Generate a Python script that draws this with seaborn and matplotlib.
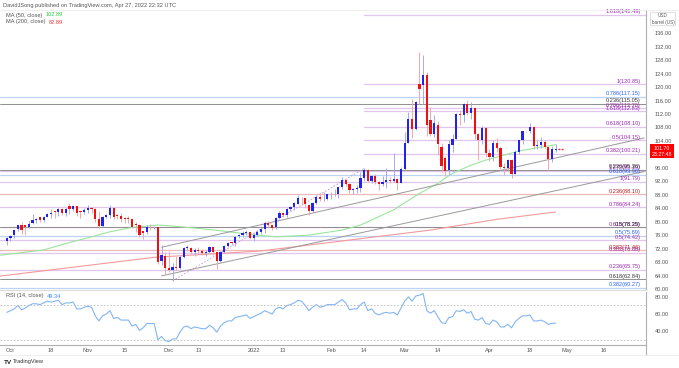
import numpy as np
import pandas as pd
import seaborn as sns
import matplotlib.pyplot as plt
from matplotlib.transforms import blended_transform_factory

# ---- values (daily bars, Sep 30 2021 - Apr 27 2022) ----
days = pd.bdate_range("2021-09-30", "2022-05-31")

opens = [
    74.40,
    75.03, 75.90, 77.70, 79.00, 78.90, 78.40, 79.50, 80.50, 81.30, 80.40, 81.40, 82.40, 83.30, 82.90, 83.80, 82.50, 84.60, 83.80, 84.60, 83.20, 82.80,
    83.60, 84.00, 83.90, 80.80, 78.80, 81.30, 81.90, 84.10, 82.10, 81.60, 81.10, 81.00, 80.70, 79.30, 79.00, 77.20, 76.80, 78.50, 78.40, 78.30, 68.20, 69.90,
    66.20, 65.60, 66.60, 66.30, 69.50, 72.10, 72.30, 70.90, 71.70, 71.30, 70.70, 70.90, 72.40, 70.90, 68.30, 71.10, 72.80, 73.80, 73.80, 75.60, 76.00, 76.50, 77.00,
    75.20, 76.10, 77.00, 77.90, 79.50, 78.90, 78.30, 81.20, 82.60, 82.10, 83.80, 84.30, 85.40, 87.00, 86.90, 85.10, 83.30, 85.60, 87.40, 86.60, 86.80,
    88.20, 88.20, 88.30, 90.30, 92.30, 91.30, 89.40, 89.70, 89.90, 93.10, 95.40, 92.10, 93.60, 91.80, 91.10, 91.90, 92.40, 92.10, 92.80, 91.60,
    95.70, 103.40, 110.60, 107.70, 121.00, 120.60, 123.70, 110.20, 106.10, 108.70, 102.10, 98.80, 95.40, 102.80, 104.70, 112.10, 111.80, 114.90, 112.30, 113.90, 106.00, 104.20, 107.80,
    100.30, 99.30, 103.30, 102.00, 96.20, 96.00, 98.30, 94.30, 100.60, 104.30, 106.95, 107.00, 108.20, 102.60, 102.80, 103.80, 102.10, 98.50, 101.30,
]
highs = [
    75.50,
    76.00, 77.89, 79.10, 79.78, 78.90, 80.11, 82.18, 81.21, 81.30, 81.59, 82.65, 83.73, 83.30, 83.95, 84.00, 84.20, 85.41, 84.85, 84.68, 83.20, 84.00,
    84.88, 84.50, 84.00, 83.15, 81.78, 82.40, 84.97, 84.20, 82.20, 82.50, 81.40, 81.60, 80.90, 79.82, 79.20, 77.20, 78.99, 79.20, 78.80, 78.40, 73.08, 71.05,
    71.29, 67.86, 69.70, 69.95, 72.50, 72.92, 72.60, 72.19, 72.41, 71.90, 71.60, 72.80, 72.60, 70.90, 71.30, 73.12, 73.95, 74.10, 75.87, 76.43, 77.10, 77.50, 77.06,
    76.55, 77.64, 78.25, 80.24, 80.08, 79.16, 81.40, 83.09, 82.99, 84.18, 84.80, 85.73, 87.91, 87.22, 87.00, 85.37, 85.77, 87.95, 88.54, 88.84, 88.37,
    88.76, 89.72, 90.42, 93.17, 92.73, 91.64, 90.02, 90.78, 94.66, 95.82, 95.77, 93.73, 94.27, 92.24, 93.45, 96.00, 93.42, 100.54, 93.05, 96.25,
    106.78, 112.51, 116.57, 116.00, 130.50, 129.44, 124.35, 113.95, 111.70, 109.83, 103.50, 99.60, 104.19, 106.02, 112.35, 113.35, 115.40, 116.06, 115.60, 114.20, 106.50, 108.50, 108.04,
    101.54, 104.15, 104.93, 102.59, 97.57, 98.60, 98.60, 101.22, 104.35, 107.05, 107.10, 109.20, 108.50, 104.30, 105.06, 104.30, 102.20, 102.60, 103.10,
]
lows = [
    73.10,
    74.12, 75.27, 77.20, 76.25, 75.91, 78.10, 79.30, 79.54, 79.82, 79.80, 81.30, 81.05, 81.20, 81.77, 81.84, 81.75, 82.30, 83.10, 81.72, 80.95, 82.20,
    82.65, 82.50, 79.80, 78.25, 78.30, 81.00, 81.20, 80.76, 80.70, 79.80, 79.68, 79.50, 78.03, 76.84, 75.35, 74.90, 76.30, 77.40, 77.80, 67.40, 67.20, 64.43,
    65.00, 62.43, 65.54, 66.00, 69.30, 71.20, 70.30, 69.80, 70.60, 70.20, 69.75, 70.70, 70.20, 66.04, 68.10, 70.70, 72.40, 73.00, 72.90, 75.20, 75.40, 76.10, 74.79,
    74.27, 75.70, 76.20, 76.74, 78.50, 77.55, 77.96, 80.70, 81.54, 81.42, 83.20, 83.60, 85.30, 84.83, 84.06, 81.98, 82.65, 85.30, 86.05, 86.15, 86.49,
    86.61, 87.75, 87.08, 89.80, 90.58, 88.48, 88.37, 88.55, 88.90, 91.98, 91.77, 91.40, 91.16, 89.48, 90.60, 90.10, 91.41, 91.70, 89.45, 91.40,
    95.30, 103.30, 104.85, 107.40, 115.00, 115.11, 105.33, 105.40, 105.05, 99.76, 94.63, 93.53, 94.00, 100.74, 104.50, 108.76, 109.70, 111.60, 110.40, 104.70, 98.44, 103.10, 99.20,
    97.90, 98.10, 100.62, 95.80, 93.75, 95.41, 92.93, 94.15, 100.09, 103.03, 106.70, 106.37, 101.66, 101.53, 101.80, 101.86, 95.28, 97.82, 100.62,
]
closes = [
    75.03,
    75.88, 77.62, 78.93, 77.43, 78.30, 79.35, 80.52, 80.64, 80.44, 81.31, 82.28, 82.44, 82.96, 83.87, 82.50, 83.76, 83.76, 84.65, 82.66, 82.81, 83.57,
    84.05, 83.91, 80.86, 78.81, 81.27, 81.93, 84.15, 81.34, 81.59, 80.79, 80.88, 80.76, 78.36, 79.01, 75.94, 76.75, 78.50, 78.39, 78.40, 68.15, 69.95, 66.18,
    65.57, 66.50, 66.26, 69.49, 72.05, 72.36, 70.94, 71.67, 71.29, 70.73, 70.87, 72.38, 70.86, 68.23, 71.12, 72.76, 73.79, 73.79, 75.57, 75.98, 76.56, 76.99, 75.21,
    76.08, 76.99, 77.85, 79.46, 78.90, 78.23, 81.22, 82.64, 82.12, 83.82, 84.30, 85.43, 86.96, 86.90, 85.14, 83.31, 85.60, 87.35, 86.61, 86.82, 88.15,
    88.20, 88.26, 90.27, 92.31, 91.32, 89.36, 89.66, 89.88, 93.10, 95.46, 92.07, 93.66, 91.76, 91.07, 91.90, 92.35, 92.10, 92.81, 91.59, 95.72,
    103.41, 110.60, 107.67, 115.68, 119.40, 123.70, 108.70, 106.02, 109.33, 103.01, 96.44, 95.04, 102.98, 104.70, 112.12, 111.76, 114.93, 112.34, 113.90, 105.96, 104.24, 107.82, 100.28,
    99.27, 103.28, 101.96, 96.23, 96.03, 98.26, 94.29, 100.60, 104.25, 106.95, 106.95, 108.21, 102.56, 102.75, 103.79, 102.07, 98.54, 101.70, 101.70,
]
rsi = [
    62,
    64, 66, 70, 65, 67, 70, 72, 72, 71, 73, 75, 74, 75, 76, 71, 73, 73, 74, 66, 66, 68,
    69, 68, 58, 52, 58, 60, 64, 55, 56, 53, 53, 53, 46, 48, 41, 44, 49, 49, 49, 30, 34, 29,
    28, 31, 31, 39, 45, 46, 43, 45, 44, 43, 43, 47, 44, 39, 46, 50, 52, 52, 56, 57, 58, 59, 55,
    57, 59, 61, 64, 62, 60, 66, 68, 66, 70, 71, 73, 76, 75, 70, 64, 68, 71, 68, 69, 71,
    71, 71, 74, 77, 73, 65, 66, 66, 71, 74, 64, 66, 61, 59, 61, 62, 61, 62, 59, 67,
    75, 80, 75, 81, 82, 84, 64, 61, 64, 57, 50, 49, 56, 57, 64, 63, 65, 61, 63, 54, 53, 56, 49,
    48, 53, 51, 45, 45, 48, 44, 51, 55, 58, 58, 59, 52, 52, 53, 51, 48, 49.3, 49.34,
]

# moving averages, read at a few bars
ma50_bar = [-2, 10, 16, 23, 28, 34, 41, 45, 52, 58, 64, 73, 82, 91, 96, 105, 112, 117, 121, 126, 130, 135, 139, 144, 149]
ma50_val = [70.0, 71.6, 73.5, 75.5, 77.0, 78.3, 79.0, 78.7, 78.0, 77.3, 76.5, 75.5, 76.0, 77.5, 79.0, 83.5,
            88.4, 91.4, 94.4, 96.8, 98.3, 99.8, 101.0, 102.0, 102.89]
ma200_bar = [-2, 40, 69, 115, 133, 149]
ma200_val = [63.8, 69.4, 71.3, 77.5, 80.7, 82.89]

# fibonacci levels (ratio, price)
fib_purple_upper = [("0.382", 100.21), ("0.5", 104.15), ("0.618", 108.10), ("0.786", 113.70),
                    ("1", 120.85), ("1.618", 141.49)]
fib_purple_lower = [("0.236", 65.75), ("0.382", 70.66), ("0.5", 74.42), ("0.618", 78.29),
                    ("0.786", 84.24), ("1", 91.79), ("1.272", 95.19)]
fib_purple_ext = [("1.618", 112.83)]
fib_blue = [("0.382", 60.27), ("0.5", 75.89), ("0.618", 93.90), ("0.786", 117.15)]
fib_gray = [("0.618", 62.84), ("0.5", 78.35), ("0.236", 95.36), ("0.236", 115.05)]
fib_red = [("0.382", 71.46), ("0.236", 88.10)]
upper_fib_start = "2022-02-14"

# trend channel and fib connector (bar date, price)
channel_upper = [("2021-11-29", 72.4), ("2022-05-31", 104.9)]
channel_lower = [("2021-11-29", 63.9), ("2022-05-31", 94.9)]
connector = [("2021-12-02", 62.43), ("2022-02-14", 95.82)]

tick_dates = ["2021-10-01", "2021-10-18", "2021-11-01", "2021-11-15", "2021-12-01", "2021-12-13",
              "2022-01-03", "2022-01-13", "2022-02-01", "2022-02-14", "2022-03-01", "2022-03-14",
              "2022-04-01", "2022-04-18", "2022-05-02", "2022-05-16"]
tick_labels = ["Oct", "18", "Nov", "15", "Dec", "13", "2022", "13", "Feb", "14", "Mar", "14",
               "Apr", "18", "May", "16"]
price_ticks = list(range(60, 137, 4))
rsi_ticks = [40, 60, 80]

# ---- styling ----
sns.set_theme(style="white")
plt.rcParams["font.family"] = ["Liberation Sans", "DejaVu Sans"]
UP, DOWN = "#2222ee", "#ee1111"
UP_WICK, DOWN_WICK = "#a4aaf5", "#f5a8a8"
TXT = "#555555"
FS = 4.1

W, H = 679, 368
fig = plt.figure(figsize=(W / 100, H / 100), dpi=100)
ax = fig.add_axes([0, 1 - 290 / H, 646 / W, 280 / H])
ax_rsi = fig.add_axes([0, 1 - 345 / H, 646 / W, 53 / H], sharex=ax)

n = len(closes)
bars = np.arange(n)
o, h, l, c = (np.array(v, dtype=float) for v in (opens, highs, lows, closes))
up = c >= o


def bar_of(d):
    return days.get_loc(pd.Timestamp(d))


# candles
ax.vlines(bars, l, h, colors=np.where(up, UP_WICK, DOWN_WICK), lw=0.7, zorder=3)
ax.bar(bars, np.maximum(np.abs(c - o), 0.15), bottom=np.minimum(o, c), width=0.6,
       color=np.where(up, UP, DOWN), lw=0, zorder=4)

# moving averages
sns.lineplot(x=ma50_bar, y=ma50_val, ax=ax, color="#9be59b", lw=0.8, zorder=2)
sns.lineplot(x=ma200_bar, y=ma200_val, ax=ax, color="#f29a9a", lw=0.8, zorder=2)

xmin, xmax = -1.85, 173.5
lab_tr = blended_transform_factory(ax.transAxes, ax.transData)


def fib(levels, line_col, text_col, start=None, lw=0.9):
    for ratio, price in levels:
        x0 = xmin if start is None else bar_of(start)
        ax.plot([x0, xmax], [price, price], color=line_col, lw=lw, zorder=1)
        ax.text(0.992, price + 0.2, f"{ratio}({price:.2f})", transform=lab_tr, ha="right",
                va="bottom", fontsize=FS, color=text_col, zorder=6)


fib(fib_purple_lower, "#e0c6ec", "#9c27b0")
fib(fib_purple_ext, "#e0c6ec", "#9c27b0", start=upper_fib_start)
fib(fib_purple_upper, "#e0c6ec", "#9c27b0", start=upper_fib_start)
fib(fib_blue, "#bdd3f5", "#2962ff")
fib(fib_red, "#ecb8b8", "#b71c1c")
fib(fib_gray, "#8f8f8f", "#333333", lw=0.7)

for line in (channel_upper, channel_lower):
    ax.plot([bar_of(line[0][0]), bar_of(line[1][0])], [line[0][1], line[1][1]],
            color="#999999", lw=0.7, zorder=2)
ax.plot([bar_of(connector[0][0]), bar_of(connector[1][0])], [connector[0][1], connector[1][1]],
        color="#c990dc", lw=0.6, ls=(0, (2, 2)), zorder=2)

# current price dotted line
ax.plot([n - 0.5, n + 1.2], [c[-1], c[-1]], color=DOWN, lw=0.9, ls=(0, (1.5, 1)), zorder=5)

ax.set_xlim(xmin, xmax)
ax.set_ylim(59.69, 142.93)
ax.yaxis.tick_right()
# the 100.00 label sits under the last-price tag
ax.set_yticks(price_ticks, ["" if t == 100 else f"{t:.2f}" for t in price_ticks])
ax.tick_params(axis="y", length=0, pad=6, labelsize=FS, labelcolor=TXT)
ax.tick_params(axis="x", length=0, labelbottom=False)
ax.set_xlabel("")
ax.set_ylabel("")
for s in ("top", "left"):
    ax.spines[s].set_visible(False)
ax.spines["right"].set_color("#b0b0b0")
ax.spines["right"].set_linewidth(0.8)
ax.spines["bottom"].set_color("#dddddd")
ax.spines["bottom"].set_linewidth(0.8)

# RSI panel
sns.lineplot(x=bars, y=rsi, ax=ax_rsi, color="#82b6f2", lw=0.8)
for lvl in (70, 30):
    ax_rsi.axhline(lvl, color="#bdbdbd", lw=0.6, ls=(0, (2, 2)))
ax_rsi.set_ylim(24.0, 85.7)
ax_rsi.yaxis.tick_right()
ax_rsi.set_yticks(rsi_ticks, [f"{t:.2f}" for t in rsi_ticks])
ax_rsi.tick_params(axis="y", length=0, pad=6, labelsize=FS, labelcolor=TXT)
ax_rsi.set_xticks([bar_of(d) for d in tick_dates], tick_labels)
ax_rsi.tick_params(axis="x", length=0, pad=2.5, labelsize=FS, labelcolor=TXT)
ax_rsi.set_xlabel("")
ax_rsi.set_ylabel("")
ax_rsi.spines["top"].set_visible(False)
ax_rsi.spines["left"].set_visible(False)
ax_rsi.spines["right"].set_color("#b0b0b0")
ax_rsi.spines["right"].set_linewidth(0.8)
ax_rsi.spines["bottom"].set_color("#b0b0b0")
ax_rsi.spines["bottom"].set_linewidth(0.8)
ax_rsi.set_xlim(xmin, xmax)

# frame pieces of the time scale
fig.add_artist(plt.Line2D([646 / W, 646 / W], [1 - 355 / H, 1 - 345 / H], color="#b0b0b0", lw=0.8))
fig.add_artist(plt.Line2D([0, 1], [1 - 355 / H, 1 - 355 / H], color="#ececec", lw=0.6))
fig.add_artist(plt.Line2D([0, 1], [1 - 9.5 / H, 1 - 9.5 / H], color="#ececec", lw=0.6))


def px(x, y):
    return x / W, 1 - y / H


def legend(host, x, y, name, value, col):
    t = fig.text(*px(x, y), name, fontsize=FS, color=TXT, va="center")
    host.annotate(value, xy=(1, 0.5), xycoords=t, xytext=(2.5, 0), textcoords="offset points",
                  va="center", fontsize=FS, color=col, annotation_clip=False, zorder=10)


# header, legends
fig.text(*px(3, 5), "DavidJSong published on TradingView.com, Apr 27, 2022 22:32 UTC",
         fontsize=FS, color=TXT, va="center")
legend(ax, 6, 15, "MA (50, close)", f"{ma50_val[-1]:.2f}", "#2ecc40")
legend(ax, 6, 22, "MA (200, close)", f"{ma200_val[-1]:.2f}", "#ee3333")
legend(ax_rsi, 6, 296, "RSI (14, close)", f"{rsi[-1]:.2f}", "#3d8ef0")
fig.text(*px(4, 362), "TV", fontsize=4.6, color="#222222", va="center", weight="bold")
fig.text(*px(13, 362), "TradingView", fontsize=FS, color="#333333", va="center")

# unit box and last price tag
fig.text(*px(663, 19), "USD\nbarrel (US)", fontsize=3.3, color=TXT, va="center", ha="center",
         linespacing=1.3,
         bbox=dict(boxstyle="round,pad=0.25", fc="white", ec="#d0d0d0", lw=0.5))
fig.text(*px(662, 151), f"{c[-1]:.2f}\n23:27:48", fontsize=3.8, color="white", va="center",
         ha="center", linespacing=1.25,
         bbox=dict(boxstyle="square,pad=0.35", fc="#ff0000", ec="none"))

fig.savefig("out.png", dpi=100)
